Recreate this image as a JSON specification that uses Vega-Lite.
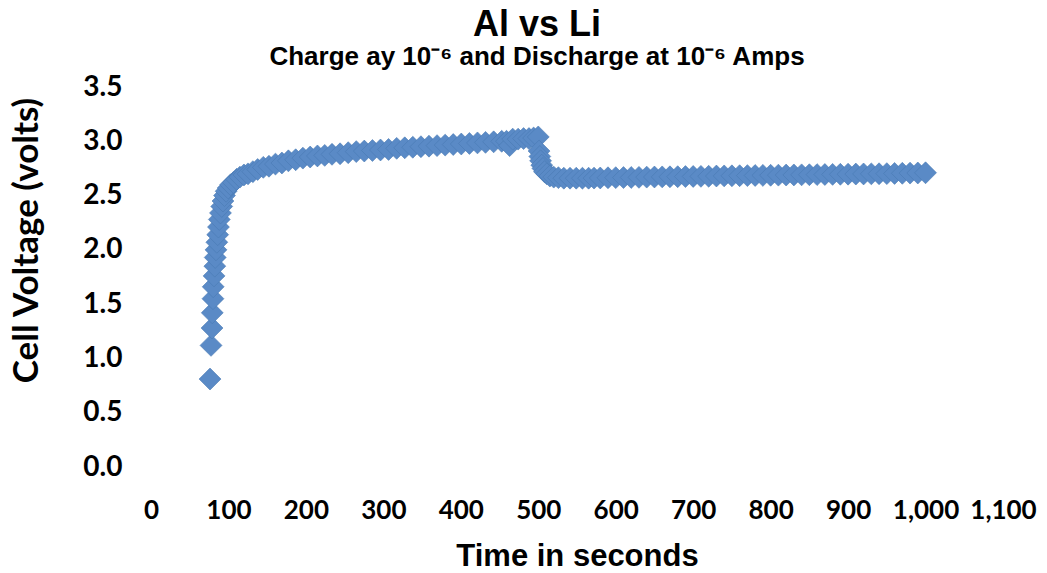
{
  "$schema": "https://vega.github.io/schema/vega-lite/v6.json",
  "width": 852,
  "height": 380,
  "autosize": {"type": "none"},
  "padding": {"left": 151, "top": 87, "right": 44, "bottom": 106},
  "background": "white",
  "config": {"view": {"stroke": null}},
  "title": {
    "text": "Al vs Li",
    "subtitle": "Charge ay 10⁻⁶ and Discharge at 10⁻⁶ Amps",
    "anchor": "middle",
    "frame": "group",
    "dx": -40,
    "offset": 2,
    "font": "Liberation Sans",
    "fontSize": 36,
    "fontWeight": "bold",
    "color": "#000000",
    "subtitleFont": "Liberation Sans",
    "subtitleFontSize": 26,
    "subtitleFontWeight": "bold",
    "subtitleColor": "#000000",
    "subtitlePadding": 0
  },
  "data": {
    "values": [
      {"t": 76.2, "v": 0.81}, {"t": 77.5, "v": 1.12}, {"t": 78.8, "v": 1.28}, {"t": 79.1, "v": 1.42},
      {"t": 80, "v": 1.55}, {"t": 80.3, "v": 1.66}, {"t": 81.4, "v": 1.76}, {"t": 82.4, "v": 1.85},
      {"t": 82.9, "v": 1.93}, {"t": 83.9, "v": 2.0}, {"t": 85, "v": 2.07}, {"t": 86.1, "v": 2.14},
      {"t": 87.1, "v": 2.21}, {"t": 88.2, "v": 2.28}, {"t": 89.7, "v": 2.34}, {"t": 91.3, "v": 2.4},
      {"t": 92.9, "v": 2.45}, {"t": 94.9, "v": 2.5}, {"t": 97, "v": 2.54}, {"t": 99.6, "v": 2.57},
      {"t": 102.8, "v": 2.6}, {"t": 106.4, "v": 2.62}, {"t": 110.6, "v": 2.65}, {"t": 114.8, "v": 2.67},
      {"t": 120, "v": 2.69}, {"t": 125.2, "v": 2.7}, {"t": 131.5, "v": 2.72}, {"t": 137.7, "v": 2.74},
      {"t": 145, "v": 2.76}, {"t": 152.3, "v": 2.77}, {"t": 160.7, "v": 2.79}, {"t": 169, "v": 2.8},
      {"t": 177.4, "v": 2.82}, {"t": 186.8, "v": 2.83}, {"t": 196.1, "v": 2.845}, {"t": 205.5, "v": 2.855},
      {"t": 214.9, "v": 2.865}, {"t": 224.3, "v": 2.87}, {"t": 233.7, "v": 2.88}, {"t": 244.1, "v": 2.885},
      {"t": 254.6, "v": 2.895}, {"t": 265, "v": 2.905}, {"t": 275.4, "v": 2.91}, {"t": 285.9, "v": 2.915},
      {"t": 296.3, "v": 2.92}, {"t": 306.7, "v": 2.925}, {"t": 317.2, "v": 2.935}, {"t": 327.6, "v": 2.94},
      {"t": 338, "v": 2.945}, {"t": 348.5, "v": 2.95}, {"t": 358.9, "v": 2.955}, {"t": 369.3, "v": 2.96},
      {"t": 379.8, "v": 2.965}, {"t": 390.2, "v": 2.97}, {"t": 400.6, "v": 2.975}, {"t": 411.1, "v": 2.98},
      {"t": 421.5, "v": 2.985}, {"t": 431.9, "v": 2.99}, {"t": 442.4, "v": 2.995}, {"t": 452.8, "v": 3.0},
      {"t": 459, "v": 3.0}, {"t": 463, "v": 2.96}, {"t": 467, "v": 3.02}, {"t": 474, "v": 3.02},
      {"t": 481, "v": 3.025}, {"t": 488, "v": 3.025}, {"t": 494, "v": 3.03}, {"t": 500, "v": 3.04},
      {"t": 501, "v": 2.91}, {"t": 502, "v": 2.86}, {"t": 503, "v": 2.82}, {"t": 504.5, "v": 2.78},
      {"t": 506, "v": 2.75}, {"t": 508, "v": 2.72}, {"t": 511, "v": 2.7}, {"t": 515, "v": 2.68},
      {"t": 520, "v": 2.67}, {"t": 526, "v": 2.665}, {"t": 533, "v": 2.66}, {"t": 541, "v": 2.66},
      {"t": 549, "v": 2.66}, {"t": 557, "v": 2.66}, {"t": 565, "v": 2.66}, {"t": 572, "v": 2.661},
      {"t": 580, "v": 2.662}, {"t": 590, "v": 2.664}, {"t": 600, "v": 2.665}, {"t": 610, "v": 2.666},
      {"t": 620, "v": 2.667}, {"t": 630, "v": 2.668}, {"t": 640, "v": 2.67}, {"t": 650, "v": 2.671},
      {"t": 660, "v": 2.672}, {"t": 670, "v": 2.673}, {"t": 680, "v": 2.674}, {"t": 690, "v": 2.675},
      {"t": 700, "v": 2.676}, {"t": 710, "v": 2.677}, {"t": 720, "v": 2.678}, {"t": 730, "v": 2.68},
      {"t": 740, "v": 2.681}, {"t": 750, "v": 2.682}, {"t": 760, "v": 2.683}, {"t": 770, "v": 2.684},
      {"t": 780, "v": 2.685}, {"t": 790, "v": 2.686}, {"t": 800, "v": 2.687}, {"t": 810, "v": 2.688},
      {"t": 820, "v": 2.689}, {"t": 830, "v": 2.69}, {"t": 840, "v": 2.691}, {"t": 850, "v": 2.692},
      {"t": 860, "v": 2.693}, {"t": 870, "v": 2.694}, {"t": 880, "v": 2.695}, {"t": 890, "v": 2.696},
      {"t": 900, "v": 2.697}, {"t": 910, "v": 2.698}, {"t": 920, "v": 2.699}, {"t": 930, "v": 2.7},
      {"t": 940, "v": 2.701}, {"t": 950, "v": 2.702}, {"t": 960, "v": 2.704}, {"t": 970, "v": 2.705},
      {"t": 980, "v": 2.707}, {"t": 990, "v": 2.708}, {"t": 1000, "v": 2.71}
    ]
  },
  "mark": {
    "type": "point",
    "shape": "diamond",
    "filled": true,
    "size": 480,
    "fill": "#5a8ac6",
    "stroke": "#4a7ab4",
    "strokeWidth": 0.6,
    "opacity": 1
  },
  "encoding": {
    "x": {
      "field": "t",
      "type": "quantitative",
      "scale": {"domain": [0, 1100], "nice": false, "zero": false},
      "axis": {
        "title": "Time in seconds",
        "values": [0, 100, 200, 300, 400, 500, 600, 700, 800, 900, 1000, 1100],
        "format": ",d",
        "grid": false,
        "domain": false,
        "ticks": false,
        "labelFont": "Lato",
        "labelFontSize": 26,
        "labelFontWeight": "bold",
        "labelColor": "#000000",
        "labelPadding": 30,
        "labelFlush": false,
        "labelOverlap": false,
        "titleFont": "Liberation Sans",
        "titleFontSize": 31,
        "titleFontWeight": "bold",
        "titleColor": "#000000",
        "titlePadding": 18
      }
    },
    "y": {
      "field": "v",
      "type": "quantitative",
      "scale": {"domain": [0, 3.5], "nice": false},
      "axis": {
        "title": "Cell Voltage (volts)",
        "values": [0, 0.5, 1, 1.5, 2, 2.5, 3, 3.5],
        "format": ".1f",
        "grid": false,
        "domain": false,
        "ticks": false,
        "labelFont": "Lato",
        "labelFontSize": 28,
        "labelFontWeight": "bold",
        "labelColor": "#000000",
        "labelPadding": 29,
        "labelFlush": false,
        "labelOverlap": false,
        "titleFont": "Lato",
        "titleFontSize": 35,
        "titleFontWeight": "bold",
        "titleColor": "#000000",
        "titlePadding": 38,
        "titleY": 153
      }
    }
  }
}
